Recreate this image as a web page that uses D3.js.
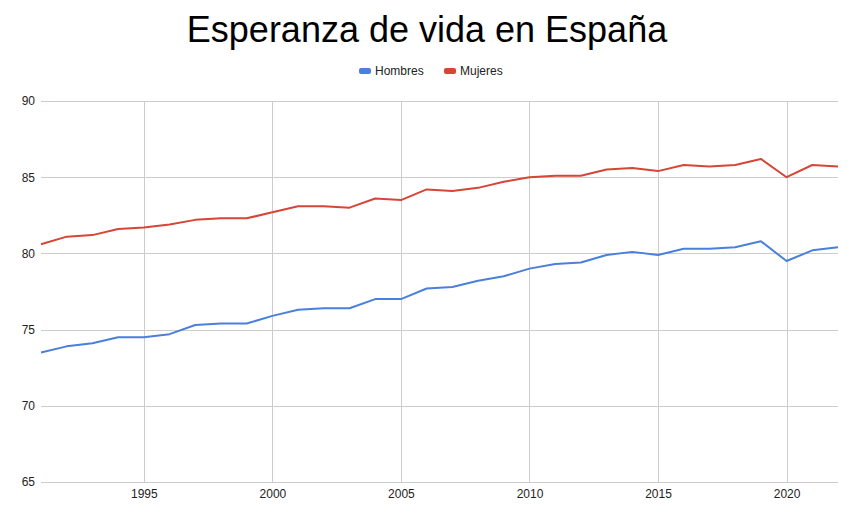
<!DOCTYPE html>
<html>
<head>
<meta charset="utf-8">
<script src="https://cdn.jsdelivr.net/npm/d3@7"></script>
<style>
  body { margin: 0; background: #fff; }
  text { font-family: Arial, "Liberation Sans", sans-serif; }
</style>
</head>
<body>
<svg id="chart" width="854" height="528"></svg>
<script>
var years = d3.range(1991, 2023);
var hombres = [73.5, 73.9, 74.1, 74.5, 74.5, 74.7, 75.3, 75.4, 75.4, 75.9,
    76.3, 76.4, 76.4, 77.0, 77.0, 77.7, 77.8, 78.2, 78.5, 79.0,
    79.3, 79.4, 79.9, 80.1, 79.9, 80.3, 80.3, 80.4, 80.8, 79.5,
    80.2, 80.4];
var mujeres = [80.6, 81.1, 81.2, 81.6, 81.7, 81.9, 82.2, 82.3, 82.3, 82.7,
    83.1, 83.1, 83.0, 83.6, 83.5, 84.2, 84.1, 84.3, 84.7, 85.0,
    85.1, 85.1, 85.5, 85.6, 85.4, 85.8, 85.7, 85.8, 86.2, 85.0,
    85.8, 85.7];
var yTicks = [65, 70, 75, 80, 85, 90];
var xTicks = [1995, 2000, 2005, 2010, 2015, 2020];

var series = [
    { name: 'Hombres', values: hombres, color: '#4a7fdc' },
    { name: 'Mujeres', values: mujeres, color: '#d64535' }
];

var svg = d3.select('#chart');
var margin = { left: 41, right: 16, top: 101, bottom: 46 };
var width = 854, height = 528;

var x = d3.scaleLinear().domain([1991, 2022]).range([margin.left, width - margin.right]);
var y = d3.scaleLinear().domain([65, 90]).range([height - margin.bottom, margin.top]);

// title
svg.append('text')
    .attr('x', 427)
    .attr('y', 42)
    .attr('text-anchor', 'middle')
    .style('font-size', '36px')
    .style('fill', '#000')
    .text('Esperanza de vida en España');

// grid
svg.append('g')
    .selectAll('line')
    .data(yTicks)
    .join('line')
    .attr('x1', margin.left)
    .attr('x2', width - margin.right)
    .attr('y1', function (d) { return Math.round(y(d)) + 0.5; })
    .attr('y2', function (d) { return Math.round(y(d)) + 0.5; })
    .attr('stroke', '#cccccc');

svg.append('g')
    .selectAll('line')
    .data(xTicks)
    .join('line')
    .attr('x1', function (d) { return Math.round(x(d)) + 0.5; })
    .attr('x2', function (d) { return Math.round(x(d)) + 0.5; })
    .attr('y1', margin.top)
    .attr('y2', height - margin.bottom)
    .attr('stroke', '#cccccc');

// axes labels via d3 axes, domain/ticks hidden
var yAxis = svg.append('g')
    .attr('transform', 'translate(' + (margin.left - 6) + ',0)')
    .call(d3.axisLeft(y).tickValues(yTicks).tickSize(0).tickPadding(0));
var xAxis = svg.append('g')
    .attr('transform', 'translate(0,' + (height - margin.bottom) + ')')
    .call(d3.axisBottom(x).tickValues(xTicks).tickFormat(d3.format('d')).tickSize(0).tickPadding(7));
[yAxis, xAxis].forEach(function (a) {
    a.select('.domain').remove();
    a.selectAll('text')
        .style('font-family', 'Arial, "Liberation Sans", sans-serif')
        .style('font-size', '12px')
        .style('fill', '#222');
});

// lines
var line = d3.line()
    .x(function (d, i) { return x(years[i]); })
    .y(function (d) { return y(d); });

svg.append('g')
    .selectAll('path')
    .data(series)
    .join('path')
    .attr('d', function (s) { return line(s.values); })
    .attr('fill', 'none')
    .attr('stroke', function (s) { return s.color; })
    .attr('stroke-width', 2)
    .attr('stroke-linejoin', 'round');

// legend
var legendX = [359, 444];
var legend = svg.append('g')
    .selectAll('g')
    .data(series)
    .join('g')
    .attr('transform', function (s, i) { return 'translate(' + legendX[i] + ',71)'; });
legend.append('rect')
    .attr('x', 0).attr('y', -3)
    .attr('width', 12).attr('height', 6)
    .attr('rx', 2)
    .attr('fill', function (s) { return s.color; });
legend.append('text')
    .attr('x', 16).attr('y', 4)
    .style('font-size', '12px')
    .style('fill', '#222')
    .text(function (s) { return s.name; });
</script>
</body>
</html>
